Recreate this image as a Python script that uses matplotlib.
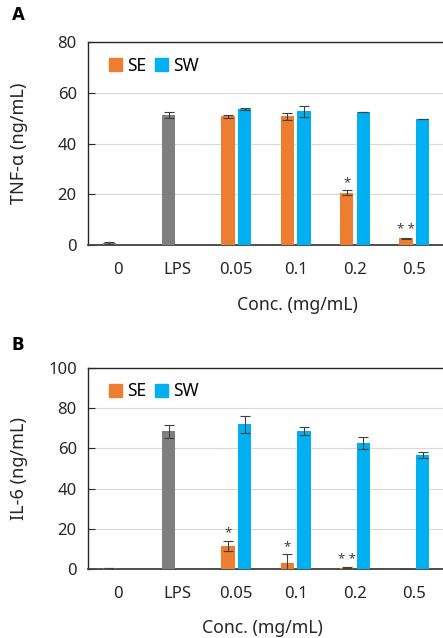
import matplotlib
matplotlib.use("Agg")
import matplotlib.pyplot as plt
import numpy as np
from matplotlib.patches import Patch

plt.rcParams['font.family'] = ['Noto Sans', 'DejaVu Sans']

categories = ["0", "LPS", "0.05", "0.1", "0.2", "0.5"]

# TNF-alpha (panel A)
tnf_ctrl = [0.8, 51.2]
tnf_ctrl_err = [0.3, 1.3]
tnf_se = [50.7, 50.7, 20.6, 2.6]
tnf_se_err = [0.5, 1.5, 1.0, 0.3]
tnf_sw = [53.6, 52.8, 52.4, 49.5]
tnf_sw_err = [0.3, 2.2, 0.0, 0.0]
tnf_se_sig = ["", "", "*", "**"]

# IL-6 (panel B)
il6_ctrl = [0.5, 68.5]
il6_ctrl_err = [0.2, 3.2]
il6_se = [11.3, 3.0, 0.7, 0.0]
il6_se_err = [2.6, 4.3, 0.3, 0.0]
il6_sw = [71.9, 68.7, 62.9, 56.8]
il6_sw_err = [4.1, 2.0, 3.0, 1.5]
il6_se_sig = ["*", "*", "**", ""]

C_SE = "#ED7D31"
C_SW = "#00B0F0"
C_GRAY = "#7F7F7F"
C_ERR = "#404040"

fig = plt.figure(figsize=(4.43, 6.38), dpi=100)
W = 0.8036
axA = fig.add_axes([0.1986, 0.616, W, 0.318])
axB = fig.add_axes([0.1986, 0.1082, W, 0.315])

bw = 0.227
off = 0.14

def draw(ax, ctrl, ctrl_err, se, se_err, sw, sw_err, sig, ymax, ylabel, xlx, sig_off):
    x = np.arange(len(categories))
    ek = dict(ecolor=C_ERR, elinewidth=0.8, capsize=3.5, capthick=0.8)
    ax.bar(x[:2] - off, ctrl, bw, color=C_GRAY, yerr=ctrl_err, error_kw=ek, zorder=3)
    ax.bar(x[2:] - off, se, bw, color=C_SE, yerr=se_err, error_kw=ek, zorder=3, label="SE")
    ax.bar(x[2:] + off, sw, bw, color=C_SW, yerr=sw_err, error_kw=ek, zorder=3, label="SW")
    for xi, v, e, s in zip(x[2:] - off, se, se_err, sig):
        if s:
            ax.annotate(" ".join(s) if len(s) > 1 else s, (xi, v + e), xytext=(0, sig_off),
                        textcoords="offset points", ha="center", va="bottom",
                        fontsize=9.5, color="#404040")
    ax.set_xlim(-0.5, len(categories) - 0.5)
    ax.set_ylim(0, ymax)
    ax.set_yticks(np.arange(0, ymax + 1, 20))
    ax.set_xticks(x)
    ax.set_xticklabels(categories)
    ax.tick_params(axis='x', length=0, pad=12, labelsize=12, colors="#262626")
    ax.tick_params(axis='y', direction='in', length=5, width=0.8, pad=8, labelsize=12,
                   colors="#262626")
    ax.grid(axis='y', color="#D9D9D9", linewidth=0.8, zorder=0)
    ax.set_axisbelow(True)
    ax.spines['right'].set_visible(False)
    for sp in ['top', 'left']:
        ax.spines[sp].set_color("#262626")
        ax.spines[sp].set_linewidth(1.0)
    ax.spines['bottom'].set_color("#404040")
    ax.spines['bottom'].set_linewidth(1.3)
    ax.set_ylabel(ylabel, fontsize=13, color="#262626")
    ax.yaxis.set_label_coords(-0.168, 0.5)
    ax.set_xlabel("Conc. (mg/mL)", fontsize=12.7, color="#262626")
    ax.xaxis.set_label_coords(xlx, -0.25)
    handles = [Patch(color=C_SE), Patch(color=C_SW)]
    ax.legend(handles, ["SE", "SW"], loc="upper left", ncol=2, frameon=False,
              handlelength=0.75, handleheight=0.75, handletextpad=0.3,
              columnspacing=0.5, fontsize=12.5, bbox_to_anchor=(0.03, 0.98),
              borderaxespad=0.2)

draw(axA, tnf_ctrl, tnf_ctrl_err, tnf_se, tnf_se_err, tnf_sw, tnf_sw_err, tnf_se_sig,
     80, "TNF-α (ng/mL)", 0.587, 1)
draw(axB, il6_ctrl, il6_ctrl_err, il6_se, il6_se_err, il6_sw, il6_sw_err, il6_se_sig,
     100, "IL-6 (ng/mL)", 0.49, 1)

fig.text(0.027, 1 - 15 / 638, "A", fontsize=12, weight="bold", va="center",
         family=["DejaVu Sans"])
fig.text(0.027, 1 - 345 / 638, "B", fontsize=12, weight="bold", va="center",
         family=["DejaVu Sans"])

fig.savefig("out.png", dpi=100)
